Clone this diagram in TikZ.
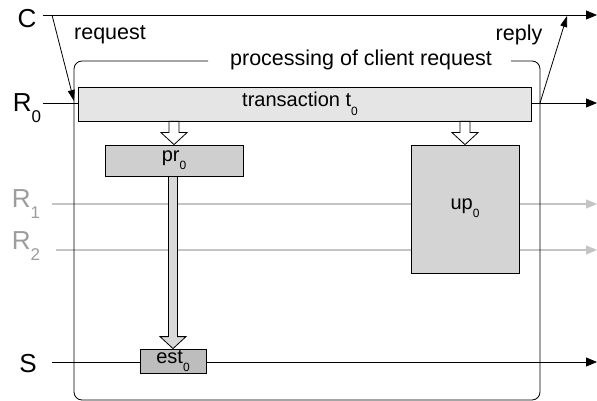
\documentclass[tikz,border=0pt]{standalone}
\usepackage{fontspec}
\setmainfont{Liberation Sans}
\usetikzlibrary{arrows.meta,calc}

\definecolor{lanegray}{HTML}{C4C4C4}
\definecolor{lanetext}{HTML}{9C9C9C}

% lowered index, size given as argument
\newcommand\lowidx[2]{\raisebox{-0.42em}{\fontsize{#1}{#1}\selectfont #2}}

\tikzset{
    lane/.style={font=\fontsize{26}{28}\selectfont, inner sep=0pt},
    txt/.style={font=\fontsize{20}{22}\selectfont, inner sep=0pt},
    big/.style={font=\fontsize{21.5}{24}\selectfont, inner sep=0pt},
    box/.style={draw, line width=0.8pt, inner sep=0pt},
    flow/.style={line width=0.8pt, -{Triangle[length=11pt,width=9pt]}},
    note/.style={line width=0.8pt, -{Triangle[length=11pt,width=7pt]}},
}

% hollow block arrow between two points
\newcommand\blockarrow[4]{%
    \path let \p1=(#1), \p2=(#2) in
        [draw, line width=0.8pt, fill=#3]
        (\x1-#4,\y1) -- (\x1+#4,\y1) -- (\x1+#4,\y2+12pt) -- (\x1+13pt,\y2+12pt)
        -- (\x1,\y2) -- (\x1-13pt,\y2+12pt) -- (\x1-#4,\y2+12pt) -- cycle;}

\begin{document}
\begin{tikzpicture}[x=1pt, y=-1pt]
            \useasboundingbox (0,0) rectangle (597,401);

            % lanes
            \node[lane] (C) at (27,19) {C};
            \node[lane] (R0) at (27,108) {R\lowidx{17}{0}};
            \node[lane, text=lanetext] (R1) at (26,204) {R\lowidx{17}{1}};
            \node[lane, text=lanetext] (R2) at (26,246) {R\lowidx{17}{2}};
            \node[lane] (S) at (28,364) {S};

            \coordinate (cs) at (43,15);   \coordinate (ce) at (597,15);
            \coordinate (r0s) at (43,103); \coordinate (r0e) at (597,103);
            \coordinate (r1s) at (52,204); \coordinate (r1e) at (597,204);
            \coordinate (r2s) at (56,250); \coordinate (r2e) at (597,250);
            \coordinate (ss) at (52,362);  \coordinate (se) at (597,362);

            \draw[flow] (cs) -- (ce);
            \draw[flow] (r0s) -- (r0e);
            \draw[flow, lanegray, line width=1.2pt] (r1s) -- (r1e);
            \draw[flow, lanegray, line width=1.2pt] (r2s) -- (r2e);
            \draw[flow] (ss) -- (se);

            % processing frame
            \draw[line width=0.8pt, rounded corners=8pt]
                (208,61) -- (74,61) -- (74,400) -- (540,400) -- (540,61) -- (511,61);
            \node[big] (title) at (361,60) {processing of client request};

            % transaction and its parts
            \node[box, fill=black!10, minimum width=453pt, minimum height=34pt] (tr) at (304.5,104) {};
            \node[txt] (trlbl) at (300,104) {transaction t\lowidx{12}{0}};
            \node[box, fill=black!19, minimum width=138pt, minimum height=31pt] (pr) at (174,160.5) {};
            \node[txt] (prlbl) at (174,160) {pr\lowidx{12}{0}};
            \node[box, fill=black!17, minimum width=108pt, minimum height=128pt] (up) at (465,209) {};
            \node[txt] (uplbl) at (465,208) {up\lowidx{12}{0}};

            \blockarrow{tr.south -| pr}{pr.north}{white}{5pt}
            \blockarrow{tr.south -| up}{up.north}{white}{5pt}

            \node[box, fill=black!26, minimum width=66pt, minimum height=24pt] (est) at (173,361) {};
            \node[txt] (estlbl) at (173,361) {est\lowidx{12}{0}};
            \blockarrow{pr.south -| est}{est.north}{black!15}{4.5pt}

            % request and reply
            \coordinate (rq) at (52,15);  \coordinate (rqe) at (74,101);
            \coordinate (rp) at (540,103); \coordinate (rpe) at (567,16);
            \draw[note] (rq) -- (rqe);
            \draw[note] (rp) -- (rpe);
            \node[big] (request) at (110,35) {request};
            \node[big] (reply) at (519,35) {reply};
        \end{tikzpicture}
\end{document}
